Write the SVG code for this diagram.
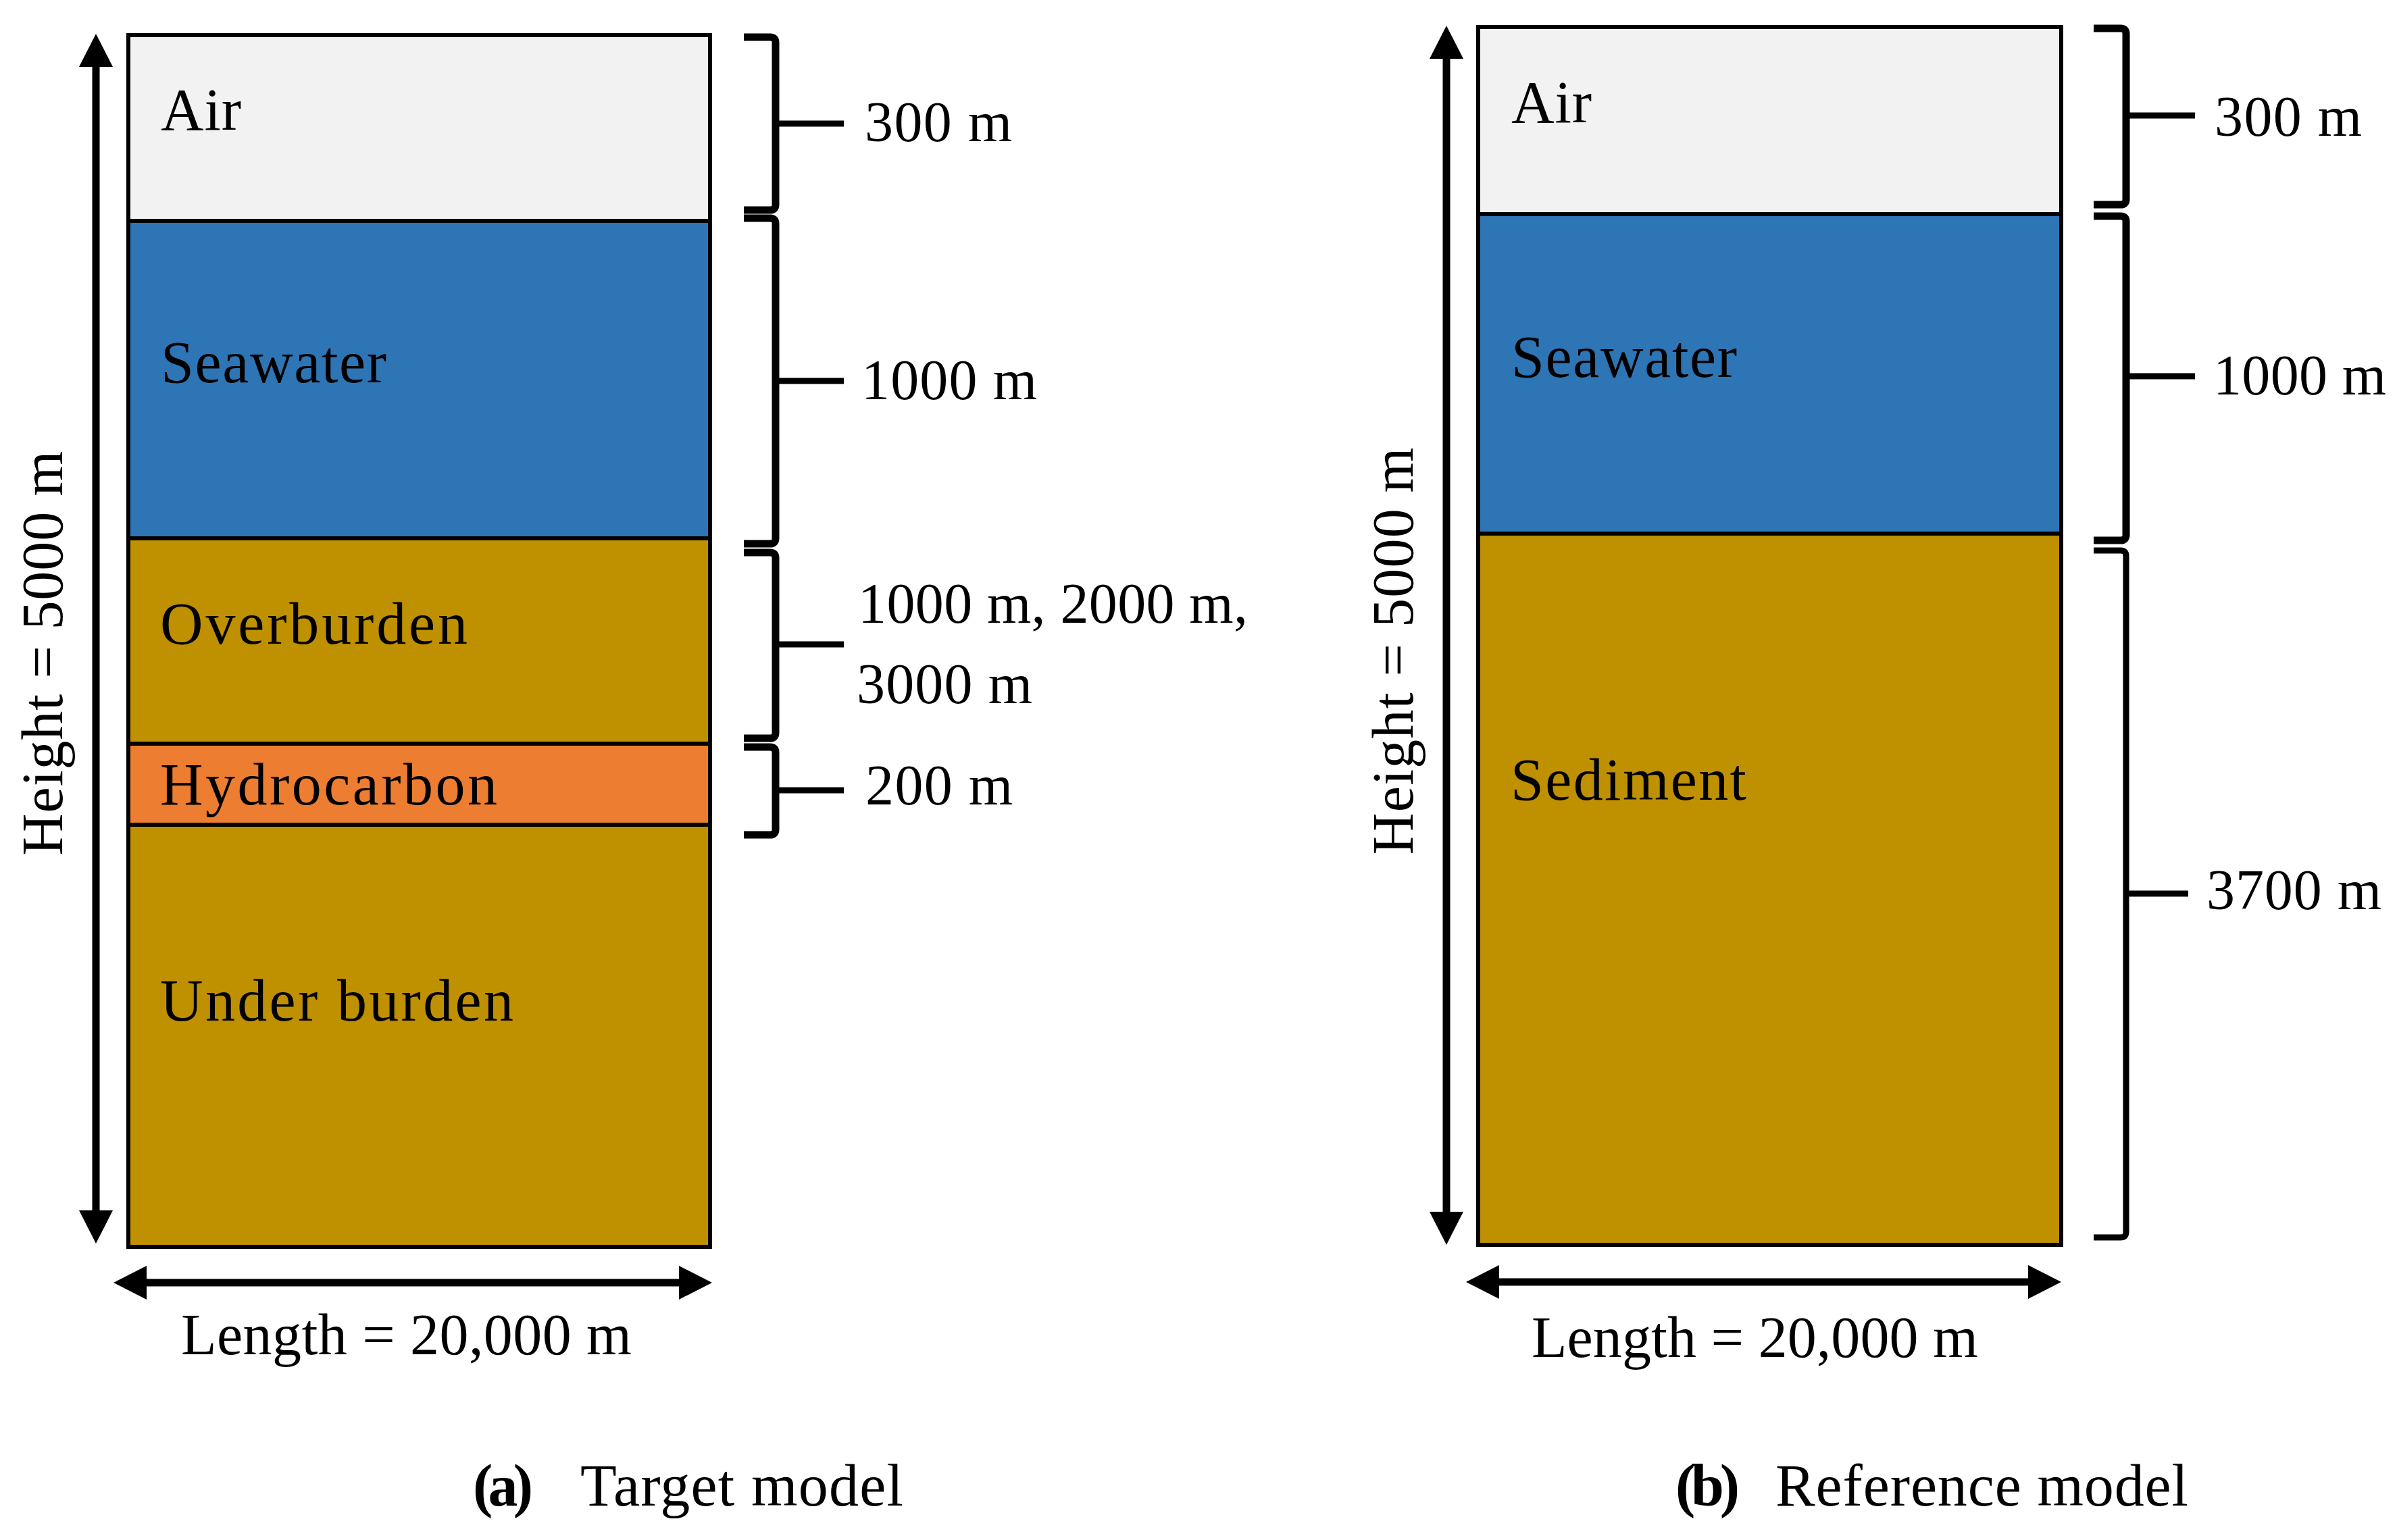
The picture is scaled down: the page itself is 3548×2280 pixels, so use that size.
<svg xmlns="http://www.w3.org/2000/svg" width="3548" height="2280" viewBox="0 0 3548 2280">
<style>
text{font-family:"Liberation Serif","Times New Roman",serif;fill:#000}
.lbl{font-size:88px}
.num{font-size:84px}
.dim{font-size:86px}
.cap{font-size:88px}
.box{stroke:#000;stroke-width:6}
.air{fill:#F2F2F2}
.sea{fill:#2E75B6}
.sed{fill:#BF9000}
.hc{fill:#ED7D31}
.arr{stroke:#000;stroke-width:11;fill:none}
.br{stroke:#000;stroke-width:11;fill:none;stroke-linejoin:round}
.tk{stroke:#000;stroke-width:9;fill:none}
</style>
<defs>
<marker id="ah" markerUnits="userSpaceOnUse" markerWidth="50" markerHeight="50" refX="2" refY="25" orient="auto-start-reverse" viewBox="0 0 50 50">
<path d="M0,0 L49,25 L0,50 Z" fill="#000"/>
</marker>
</defs>
<rect width="3548" height="2280" fill="#fff"/>

<!-- Panel (a) -->
<g id="a-air"><rect class="box air" x="190" y="52" width="861" height="275"/><text class="lbl" x="238" y="192" textLength="119">Air</text></g>
<g id="a-seawater"><rect class="box sea" x="190" y="327" width="861" height="470"/><text class="lbl" x="238" y="566" textLength="334">Seawater</text></g>
<g id="a-overburden"><rect class="box sed" x="190" y="797" width="861" height="304"/><text class="lbl" x="237" y="953" textLength="455">Overburden</text></g>
<g id="a-hydrocarbon"><rect class="box hc" x="190" y="1101" width="861" height="120"/><text class="lbl" x="237" y="1191" textLength="499">Hydrocarbon</text></g>
<g id="a-underburden"><rect class="box sed" x="190" y="1221" width="861" height="625"/><text class="lbl" x="237" y="1511" textLength="523">Under burden</text></g>

<!-- Panel (b) -->
<g id="b-air"><rect class="box air" x="2188" y="40" width="863" height="277"/><text class="lbl" x="2237" y="181" textLength="119">Air</text></g>
<g id="b-seawater"><rect class="box sea" x="2188" y="317" width="863" height="473"/><text class="lbl" x="2237" y="558" textLength="334">Seawater</text></g>
<g id="b-sediment"><rect class="box sed" x="2188" y="790" width="863" height="1053"/><text class="lbl" x="2236" y="1184" textLength="349">Sediment</text></g>

<g id="connectors">
<!-- dimension arrows (a) -->
<line class="arr" x1="142" y1="97" x2="142" y2="1794" marker-start="url(#ah)" marker-end="url(#ah)"/>
<line class="arr" x1="215" y1="1899" x2="1007" y2="1899" marker-start="url(#ah)" marker-end="url(#ah)"/>
<!-- dimension arrows (b) -->
<line class="arr" x1="2141" y1="85" x2="2141" y2="1796" marker-start="url(#ah)" marker-end="url(#ah)"/>
<line class="arr" x1="2217" y1="1898" x2="3004" y2="1898" marker-start="url(#ah)" marker-end="url(#ah)"/>

<!-- braces (a) -->
<path class="br" d="M1101,55 L1140,55 Q1148,55 1148,63 L1148,303 Q1148,311 1140,311 L1101,311"/>
<path class="tk" d="M1148,183 L1249,183"/>
<path class="br" d="M1101,323 L1140,323 Q1148,323 1148,331 L1148,797 Q1148,805 1140,805 L1101,805"/>
<path class="tk" d="M1148,564 L1249,564"/>
<path class="br" d="M1101,818 L1140,818 Q1148,818 1148,826 L1148,1085 Q1148,1093 1140,1093 L1101,1093"/>
<path class="tk" d="M1148,954 L1249,954"/>
<path class="br" d="M1101,1106 L1140,1106 Q1148,1106 1148,1114 L1148,1228 Q1148,1236 1140,1236 L1101,1236"/>
<path class="tk" d="M1148,1170 L1249,1170"/>

<!-- braces (b) -->
<path class="br" d="M3099,42 L3139,42 Q3147,42 3147,50 L3147,295 Q3147,303 3139,303 L3099,303"/>
<path class="tk" d="M3147,171 L3249,171"/>
<path class="br" d="M3099,320 L3139,320 Q3147,320 3147,328 L3147,792 Q3147,800 3139,800 L3099,800"/>
<path class="tk" d="M3147,557 L3249,557"/>
<path class="br" style="stroke-width:9" d="M3099,815 L3139,815 Q3147,815 3147,823 L3147,1824 Q3147,1832 3139,1832 L3099,1832"/>
<path class="tk" d="M3147,1323 L3239,1323"/>
</g>

<g id="labels">
<text class="num" x="1280" y="209" textLength="218">300 m</text>
<text class="num" x="1275" y="591" textLength="260">1000 m</text>
<text class="num" x="1270" y="922" textLength="577">1000 m, 2000 m,</text>
<text class="num" x="1268" y="1041" textLength="260">3000 m</text>
<text class="num" x="1281" y="1191" textLength="218">200 m</text>
<text class="dim" transform="translate(92,967) rotate(-90)" text-anchor="middle" textLength="599">Height = 5000 m</text>
<text class="dim" x="268" y="2005" textLength="667">Length = 20,000 m</text>

<text class="num" x="3278" y="201" textLength="218">300 m</text>
<text class="num" x="3276" y="584" textLength="256">1000 m</text>
<text class="num" x="3266" y="1346" textLength="259">3700 m</text>
<text class="dim" transform="translate(2091,964) rotate(-90)" text-anchor="middle" textLength="603">Height = 5000 m</text>
<text class="dim" x="2267" y="2009" textLength="661">Length = 20,000 m</text>
</g>

<g id="captions">
<text class="cap" x="700" y="2229" font-weight="bold" textLength="89">(a)</text>
<text class="cap" x="859" y="2229" textLength="478">Target model</text>
<text class="cap" x="2480" y="2229" font-weight="bold" textLength="95">(b)</text>
<text class="cap" x="2628" y="2229" textLength="611">Reference model</text>
</g>
</svg>
